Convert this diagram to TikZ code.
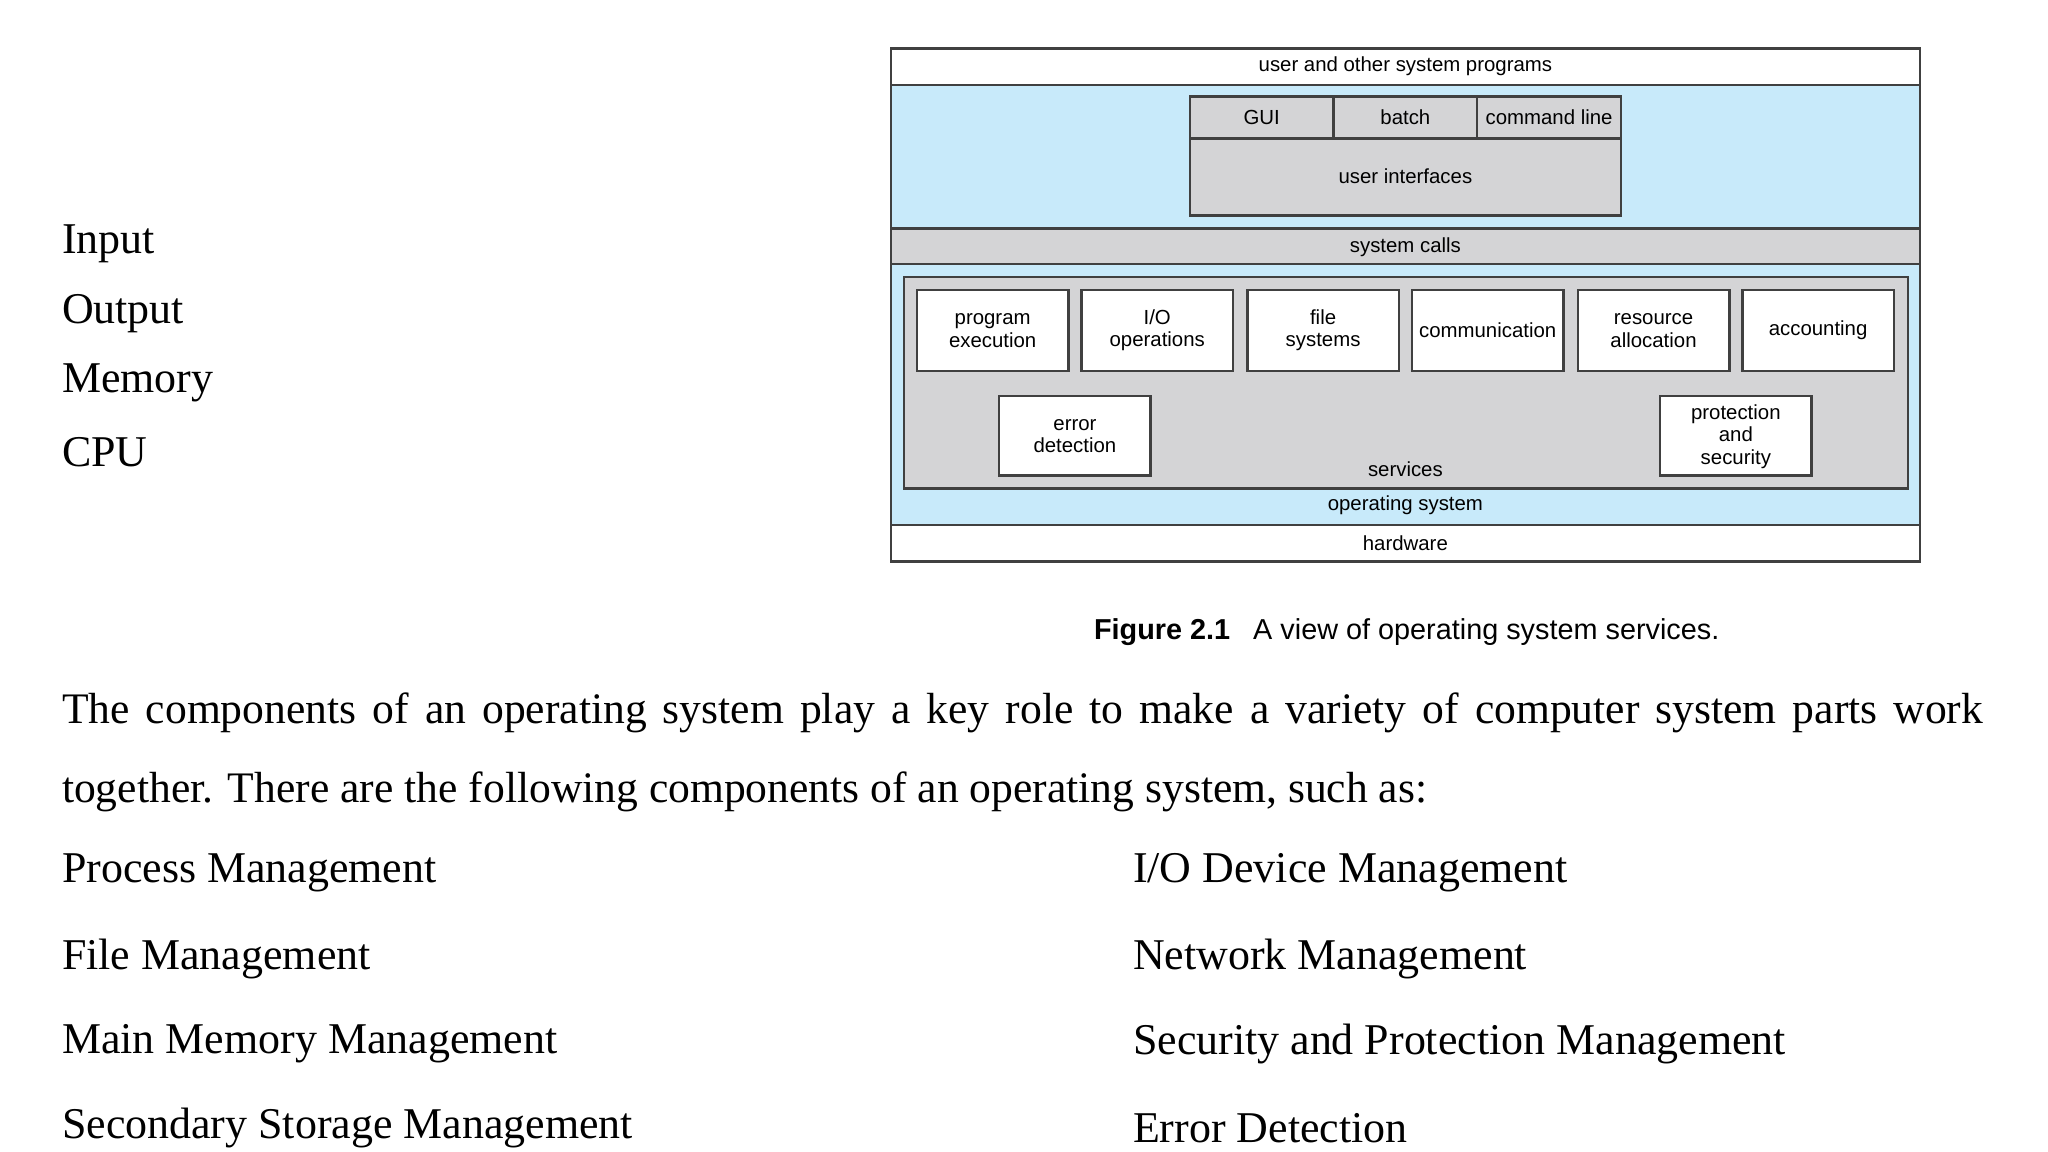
\documentclass[tikz,border=0pt]{standalone}
\usepackage{fontspec}
\setmainfont{Liberation Serif}
\newfontfamily\diag{Liberation Sans}
\definecolor{osblue}{RGB}{200,234,250}
\definecolor{osgray}{RGB}{212,212,214}
\begin{document}
\begin{tikzpicture}[x=0.013061cm,y=-0.013061cm,
  box/.style={draw=black!75,line width=0.7pt},
  lbl/.style={font=\diag\fontsize{5.8}{6.4}\selectfont,align=center,inner sep=0pt},
  txt/.style={font=\fontsize{12.5}{14}\selectfont,anchor=west,inner sep=0pt},
  svc/.style={box,fill=white}]
  \useasboundingbox (0,0) rectangle (1568,882);
  % layers
  \filldraw[box,fill=osblue] (682,65) rectangle (1470,402);
  \filldraw[box,fill=white] (682,37) rectangle (1470,65);
  \filldraw[box,fill=white] (682,402) rectangle (1470,430);
  \filldraw[box,fill=osgray] (682,175) rectangle (1470,202);
  \filldraw[box,fill=osgray] (911,106) rectangle (1241,165);
  \filldraw[box,fill=osgray] (911,74) rectangle (1021,106);
  \filldraw[box,fill=osgray] (1021,74) rectangle (1131,106);
  \filldraw[box,fill=osgray] (1131,74) rectangle (1241,106);
  \filldraw[box,fill=osgray] (692,212) rectangle (1461,374);
  \node[lbl] (usr) at (1076,51) {user and other system programs};
  \node[lbl] (gui) at (966,90) {GUI};
  \node[lbl] (bat) at (1076,90) {batch};
  \node[lbl] (cmd) at (1186,90) {command line};
  \node[lbl] (ui) at (1076,135) {user interfaces};
  \node[lbl] (sc) at (1076,189) {system calls};
  % services
  \foreach \x/\t [count=\i] in {702/{program\\execution},828/{I/O\\operations},955/{file\\systems},1081/{communication},1208/{resource\\allocation},1334/{accounting}}{
    \filldraw[svc] (\x,222) rectangle ++(116,62);
    \node[lbl] (s\i) at (\x+58,253) {\t};
  }
  \filldraw[svc] (765,303) rectangle (881,364);
  \node[lbl] (err) at (823,334) {error\\detection};
  \filldraw[svc] (1271,303) rectangle (1387,364);
  \node[lbl] (prot) at (1329,334) {protection\\and\\security};
  \node[lbl] (srv) at (1076,359) {services};
  \node[lbl] (os) at (1076,387) {operating system};
  \node[lbl] (hw) at (1076,416) {hardware};
  \node[font=\diag\fontsize{8.2}{10}\selectfont,inner sep=0pt] (cap) at (1077,484)
    {\textbf{Figure 2.1}\hspace{0.8em}A view of operating system services.};
  % text
  \node[txt] (t1) at (47,187) {Input};
  \node[txt] (t2) at (47,240) {Output};
  \node[txt] (t3) at (47,293) {Memory};
  \node[txt] (t4) at (47,346) {CPU};
  \node[txt,anchor=north west,text width=19.21cm,align=justify,
        font=\fontsize{12.4}{22.3}\selectfont] (par) at (47,530)
    {The components of an operating system play a key role to make a variety of computer system parts work together. There are the following components of an operating system, such as:};
  \node[txt] (c1) at (47,668) {Process Management};
  \node[txt] (c2) at (47,734) {File Management};
  \node[txt] (c3) at (47,799) {Main Memory Management};
  \node[txt] (c4) at (47,864) {Secondary Storage Management};
  \node[txt] (d1) at (867,668) {I/O Device Management};
  \node[txt] (d2) at (867,734) {Network Management};
  \node[txt] (d3) at (867,799) {Security and Protection Management};
  \node[txt] (d4) at (867,864) {Error Detection};
\end{tikzpicture}
\end{document}
